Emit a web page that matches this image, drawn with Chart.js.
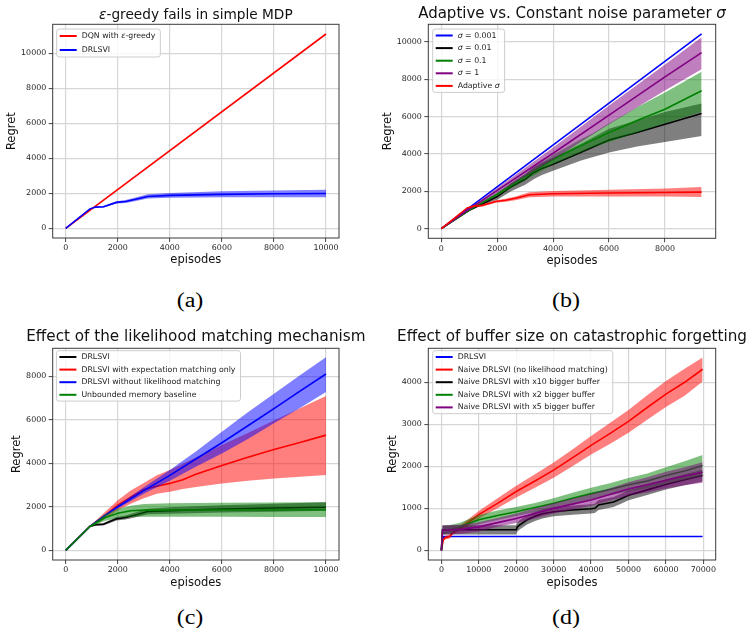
<!DOCTYPE html>
<html>
<head>
<meta charset="utf-8">
<script src="https://cdn.jsdelivr.net/npm/chart.js@4.4.1/dist/chart.umd.min.js"></script>
<style>
body { margin: 0; background: #fff; width: 748px; height: 628px; position: relative; overflow: hidden; }
.panel { position: absolute; }
.cap { position: absolute; font-family: "Liberation Serif"; font-size: 20px; color: #000;
       transform: translate(-50%, -50%) scaleX(1.2); white-space: nowrap; }
</style>
</head>
<body>
<div class="panel" style="left:0;top:0"><canvas id="chartA" width="374" height="280"></canvas></div>
<div class="panel" style="left:374px;top:0"><canvas id="chartB" width="374" height="280"></canvas></div>
<div class="panel" style="left:0;top:320px"><canvas id="chartC" width="374" height="270"></canvas></div>
<div class="panel" style="left:374px;top:320px"><canvas id="chartD" width="374" height="270"></canvas></div>
<div class="cap" style="left:190px;top:300px">(a)</div>
<div class="cap" style="left:566px;top:300px">(b)</div>
<div class="cap" style="left:190px;top:617px">(c)</div>
<div class="cap" style="left:566px;top:617px">(d)</div>
<script>
// ---- (a) epsilon-greedy fails in simple MDP
const aXTicks = [0, 2000, 4000, 6000, 8000, 10000];
const aYTicks = [0, 2000, 4000, 6000, 8000, 10000];
const aDqnX = [0, 10000];
const aDqnY = [0, 11100];
const aDrlX = [0, 930, 1150, 1450, 1950, 2300, 2650, 3150, 4000, 6000, 8000, 10000];
const aDrlMean = [0, 1110, 1210, 1230, 1480, 1530, 1640, 1820, 1880, 1940, 1970, 1990];
const aDrlLo = [0, 1090, 1170, 1180, 1410, 1450, 1540, 1700, 1740, 1770, 1780, 1780];
const aDrlHi = [0, 1130, 1250, 1280, 1550, 1610, 1740, 1940, 2020, 2110, 2160, 2200];

// ---- (b) adaptive vs constant sigma
const bXTicks = [0, 2000, 4000, 6000, 8000];
const bYTicks = [0, 2000, 4000, 6000, 8000, 10000];
const bS001X = [0, 9310];
const bS001Y = [0, 10430];
const bS01X = [0, 1000, 1500, 2000, 2500, 3000, 3300, 3600, 4000, 5000, 6000, 7000, 8000, 9310];
const bS01Mean = [0, 980, 1350, 1720, 2250, 2650, 3000, 3230, 3450, 4100, 4750, 5150, 5600, 6170];
const bS01Lo = [0, 960, 1280, 1550, 2000, 2350, 2650, 2880, 3100, 3650, 4080, 4400, 4650, 4960];
const bS01Hi = [0, 1000, 1420, 1850, 2450, 2900, 3300, 3550, 3800, 4550, 5350, 5800, 6250, 6700];
const bS1X = [0, 1000, 2000, 3000, 4000, 5000, 5400, 6000, 7000, 8000, 9310];
const bS1Mean = [0, 1000, 1850, 2800, 3720, 4450, 4730, 5150, 5800, 6400, 7390];
const bS1Lo = [0, 980, 1750, 2600, 3450, 4100, 4350, 4650, 5150, 5650, 6250];
const bS1Hi = [0, 1020, 1950, 2950, 3950, 4800, 5100, 5650, 6500, 7300, 8410];
const bS10X = [0, 1000, 2000, 4000, 6000, 8000, 9310];
const bS10Mean = [0, 1050, 2050, 4040, 6080, 8130, 9430];
const bS10Lo = [0, 1020, 1900, 3700, 5600, 7400, 8540];
const bS10Hi = [0, 1080, 2180, 4350, 6600, 8800, 10250];
const bAdaX = [0, 930, 1150, 1450, 1950, 2300, 2650, 3150, 4000, 6000, 8000, 9310];
const bAdaMean = [0, 1110, 1210, 1240, 1460, 1520, 1630, 1820, 1870, 1910, 1940, 1960];
const bAdaLo = [0, 1090, 1170, 1180, 1390, 1440, 1530, 1690, 1720, 1730, 1720, 1700];
const bAdaHi = [0, 1130, 1250, 1290, 1530, 1600, 1730, 1950, 2020, 2090, 2160, 2230];

// ---- (c) likelihood matching mechanism
const cXTicks = [0, 2000, 4000, 6000, 8000, 10000];
const cYTicks = [0, 2000, 4000, 6000, 8000];
const cDrlX = [0, 930, 1150, 1450, 1950, 2300, 2650, 3150, 4000, 6000, 8000, 10000];
const cDrlMean = [0, 1100, 1180, 1200, 1450, 1510, 1620, 1790, 1830, 1900, 1950, 1985];
const cDrlLo = [0, 1080, 1130, 1140, 1370, 1420, 1510, 1660, 1690, 1740, 1780, 1820];
const cDrlHi = [0, 1120, 1230, 1260, 1530, 1600, 1730, 1920, 1980, 2080, 2150, 2210];
const cExpX = [0, 930, 1500, 2000, 2500, 3000, 3500, 4000, 4500, 5000, 6000, 7000, 8000, 9000, 10000];
const cExpMean = [0, 1100, 1600, 2080, 2450, 2800, 2950, 3080, 3250, 3500, 3900, 4280, 4640, 4960, 5300];
const cExpLo = [0, 1080, 1450, 1850, 2150, 2400, 2600, 2700, 2820, 2920, 3080, 3200, 3300, 3390, 3470];
const cExpHi = [0, 1120, 1750, 2300, 2750, 3100, 3450, 3700, 3980, 4270, 4850, 5400, 5970, 6530, 7100];
const cNoLmX = [0, 930, 1500, 2000, 3000, 4000, 5000, 6000, 7000, 8000, 9000, 10000];
const cNoLmMean = [0, 1100, 1600, 2000, 2750, 3450, 4200, 4950, 5730, 6520, 7320, 8110];
const cNoLmLo = [0, 1090, 1560, 1930, 2600, 3200, 3850, 4450, 5120, 5850, 6550, 7280];
const cNoLmHi = [0, 1110, 1640, 2070, 2900, 3700, 4550, 5450, 6350, 7200, 8050, 8880];
const cUnbX = [0, 930, 1500, 2000, 2500, 3000, 4000, 6000, 8000, 10000];
const cUnbMean = [0, 1100, 1500, 1710, 1820, 1850, 1860, 1860, 1860, 1870];
const cUnbLo = [0, 1080, 1350, 1500, 1530, 1550, 1550, 1550, 1540, 1530];
const cUnbHi = [0, 1120, 1650, 1920, 2050, 2130, 2170, 2190, 2200, 2210];

// ---- (d) buffer size and catastrophic forgetting
const dXTicks = [0, 10000, 20000, 30000, 40000, 50000, 60000, 70000];
const dYTicks = [0, 1000, 2000, 3000, 4000];
const dDrlX = [0, 300, 600, 69800];
const dDrlY = [0, 250, 330, 330];
const dNaiveX = [0, 500, 1000, 2200, 3100, 5400, 10000, 15000, 20000, 25000, 30000, 35000, 40000, 45000, 50000, 55000, 60000, 65000, 69800];
const dNaiveMean = [0, 250, 300, 330, 430, 550, 850, 1120, 1400, 1650, 1910, 2200, 2500, 2780, 3070, 3400, 3720, 4000, 4310];
const dNaiveLo = [0, 220, 260, 280, 380, 480, 760, 1000, 1260, 1490, 1730, 2000, 2280, 2530, 2800, 3110, 3410, 3680, 4020];
const dNaiveHi = [0, 280, 340, 380, 480, 620, 940, 1240, 1540, 1810, 2090, 2400, 2720, 3030, 3340, 3690, 4030, 4320, 4590];
const dX10X = [0, 300, 1000, 20000, 20300, 21000, 23000, 25000, 27000, 30000, 35000, 40000, 41000, 42000, 46000, 48000, 50000, 55000, 60000, 65000, 69800];
const dX10Mean = [0, 490, 490, 490, 560, 610, 730, 810, 870, 920, 960, 990, 1000, 1080, 1150, 1230, 1310, 1440, 1570, 1680, 1780];
const dX10Lo = [0, 380, 380, 380, 450, 500, 620, 700, 760, 810, 850, 880, 890, 960, 1030, 1110, 1190, 1320, 1450, 1550, 1640];
const dX10Hi = [0, 600, 600, 600, 670, 720, 840, 920, 980, 1030, 1070, 1100, 1110, 1200, 1270, 1350, 1430, 1560, 1690, 1810, 1920];
const dX2X = [0, 300, 2000, 5000, 10000, 15000, 20000, 25000, 30000, 35000, 40000, 45000, 50000, 55000, 60000, 65000, 69800];
const dX2Mean = [0, 480, 490, 560, 730, 830, 920, 1020, 1120, 1240, 1350, 1450, 1560, 1650, 1780, 1890, 2020];
const dX2Lo = [0, 380, 400, 460, 620, 720, 820, 910, 1010, 1110, 1210, 1310, 1400, 1480, 1590, 1680, 1780];
const dX2Hi = [0, 580, 600, 660, 840, 950, 1030, 1130, 1240, 1370, 1490, 1600, 1720, 1830, 1980, 2120, 2270];
const dX5X = [0, 300, 5000, 10000, 15000, 20000, 25000, 30000, 35000, 40000, 45000, 50000, 55000, 60000, 65000, 69800];
const dX5Mean = [0, 480, 500, 560, 660, 760, 880, 1000, 1100, 1200, 1330, 1460, 1560, 1670, 1770, 1860];
const dX5Lo = [0, 380, 390, 450, 560, 650, 760, 880, 970, 1060, 1180, 1300, 1380, 1470, 1550, 1610];
const dX5Hi = [0, 590, 610, 670, 770, 880, 1000, 1120, 1230, 1340, 1480, 1620, 1740, 1870, 1980, 2100];

const FONT = '"DejaVu Sans"';
Chart.defaults.font.family = FONT;
Chart.defaults.animation = false;

const colors = {
    blue: [0, 0, 255], red: [255, 0, 0], black: [0, 0, 0],
    green: [0, 128, 0], purple: [128, 0, 128]
};
function rgba(name, a) {
    const c = colors[name];
    return 'rgba(' + c[0] + ',' + c[1] + ',' + c[2] + ',' + a + ')';
}

function pts(xs, ys) {
    return xs.map((x, i) => ({ x: x, y: ys[i] }));
}

// greek letters are drawn in italic, like mathtext
function richParts(text) {
    return text.split(/([εσ])/).filter(p => p.length > 0);
}
function richFont(part, size) {
    return (/[εσ]/.test(part) ? 'italic ' : '') + size + 'px ' + FONT;
}
function measureRich(ctx, text, size) {
    let w = 0;
    richParts(text).forEach(p => { ctx.font = richFont(p, size); w += ctx.measureText(p).width; });
    return w;
}
function drawRich(ctx, text, x, y, size, align, color) {
    let cx = align === 'center' ? x - measureRich(ctx, text, size) / 2 : x;
    ctx.fillStyle = color;
    ctx.textBaseline = 'middle';
    ctx.textAlign = 'left';
    richParts(text).forEach(p => {
        ctx.font = richFont(p, size);
        ctx.fillText(p, cx, y);
        cx += ctx.measureText(p).width;
    });
}

function buildDatasets(series) {
    const ds = [];
    series.forEach((s, k) => {
        if (s.lo) {
            ds.push({ data: pts(s.x, s.hi), borderWidth: 0, borderColor: 'transparent', pointRadius: 0,
                      backgroundColor: rgba(s.color, 0.5), fill: '+1', order: 100 - k });
            ds.push({ data: pts(s.x, s.lo), borderWidth: 0, borderColor: 'transparent', pointRadius: 0,
                      fill: false, order: 100 - k });
        }
        ds.push({ label: s.label, data: pts(s.x, s.mean), borderColor: rgba(s.color, 1), borderWidth: 1.6,
                  pointRadius: 0, fill: false, tension: 0, order: 99.5 - k });
    });
    return ds;
}

// frame, title and in-plot legend (matplotlib look)
const panelPlugin = {
    id: 'panel',
    afterDatasetsDraw(chart) {
        const a = chart.chartArea, ctx = chart.ctx;
        ctx.save();
        ctx.strokeStyle = '#3a3a3a';
        ctx.lineWidth = 1;
        ctx.strokeRect(a.left, a.top, a.right - a.left, a.bottom - a.top);
        ctx.restore();
    },
    afterDraw(chart, args, opts) {
        const a = chart.chartArea, ctx = chart.ctx;
        ctx.save();
        drawRich(ctx, opts.title, (a.left + a.right) / 2, opts.titleY, opts.titleSize, 'center', '#111');

        const items = chart.data.datasets.filter(d => d.label);
        const lg = opts.legend;
        const size = 7.8;
        let tw = 0;
        items.forEach(d => { tw = Math.max(tw, measureRich(ctx, d.label, size)); });
        const bx = a.left + lg.dx, by = a.top + lg.dy;
        const bw = 25 + tw + 5;
        const bh = lg.first * 2 + (items.length - 1) * lg.row;
        ctx.beginPath();
        ctx.roundRect(bx, by, bw, bh, 2.5);
        ctx.fillStyle = 'rgba(255,255,255,0.8)';
        ctx.fill();
        ctx.strokeStyle = '#cccccc';
        ctx.lineWidth = 1;
        ctx.stroke();
        items.forEach((d, i) => {
            const y = by + lg.first + i * lg.row;
            ctx.beginPath();
            ctx.moveTo(bx + 3, y);
            ctx.lineTo(bx + 20, y);
            ctx.strokeStyle = d.borderColor;
            ctx.lineWidth = 2;
            ctx.stroke();
            drawRich(ctx, d.label, bx + 25, y, size, 'left', '#222');
        });
        ctx.restore();
    }
};

function makePanel(id, g, series) {
    const tickFont = { size: 7.9 };
    return new Chart(document.getElementById(id), {
        type: 'line',
        data: { datasets: buildDatasets(series) },
        plugins: [panelPlugin],
        options: {
            responsive: false,
            devicePixelRatio: 1,
            layout: { padding: { left: 0, top: g.top, right: g.padRight, bottom: 0 } },
            plugins: {
                legend: { display: false },
                tooltip: { enabled: false },
                filler: { propagate: false },
                panel: { title: g.title, titleY: g.titleY, titleSize: g.titleSize, legend: g.legend }
            },
            scales: {
                x: {
                    type: 'linear', min: g.xMin, max: g.xMax,
                    afterBuildTicks: s => { s.ticks = g.xTicks.map(v => ({ value: v })); },
                    ticks: { autoSkip: false, maxRotation: 0, minRotation: 0,
                             padding: 1.5, color: '#222', font: tickFont, callback: v => String(v) },
                    grid: { color: '#d6d6d6', lineWidth: 1.2, tickLength: 4, tickColor: '#444', tickWidth: 1 },
                    border: { display: false },
                    title: { display: true, text: 'episodes', color: '#111', font: { size: 11.5 },
                             padding: { top: 0, bottom: g.xTitlePad } },
                    afterFit: s => { s.height = g.xAxisH; }
                },
                y: {
                    type: 'linear', min: g.yMin, max: g.yMax,
                    afterBuildTicks: s => { s.ticks = g.yTicks.map(v => ({ value: v })); },
                    ticks: { autoSkip: false,
                             padding: 2.5, color: '#222', font: tickFont, callback: v => String(v) },
                    grid: { color: '#d6d6d6', lineWidth: 1.2, tickLength: 4, tickColor: '#444', tickWidth: 1 },
                    border: { display: false },
                    title: { display: true, text: 'Regret', color: '#111', font: { size: 11.5 },
                             padding: { top: g.yTitlePad, bottom: 0 } },
                    afterFit: s => { s.width = g.yAxisW; }
                }
            }
        }
    });
}

makePanel('chartA', {
    title: 'ε-greedy fails in simple MDP', titleY: 15, titleSize: 13.7,
    top: 24.3, padRight: 35, yAxisW: 52.7, xAxisH: 42, xTitlePad: 13.1, yTitlePad: 5.4,
    xMin: -500, xMax: 10500, xTicks: aXTicks, yMin: -555, yMax: 11655, yTicks: aYTicks,
    legend: { dx: 4, dy: 4.7, first: 7, row: 14 }
}, [
    { label: 'DQN with ε-greedy', color: 'red', x: aDqnX, mean: aDqnY },
    { label: 'DRLSVI', color: 'blue', x: aDrlX, mean: aDrlMean, lo: aDrlLo, hi: aDrlHi }
]);

makePanel('chartB', {
    title: 'Adaptive vs. Constant noise parameter σ', titleY: 14, titleSize: 15,
    top: 24.3, padRight: 32.3, yAxisW: 54.3, xAxisH: 41.7, xTitlePad: 12.1, yTitlePad: 7.1,
    xMin: -465, xMax: 9814, xTicks: bXTicks, yMin: -514, yMax: 10948, yTicks: bYTicks,
    legend: { dx: 4.4, dy: 4.7, first: 6.5, row: 12.6 }
}, [
    { label: 'σ = 0.001', color: 'blue', x: bS001X, mean: bS001Y },
    { label: 'σ = 0.01', color: 'black', x: bS01X, mean: bS01Mean, lo: bS01Lo, hi: bS01Hi },
    { label: 'σ = 0.1', color: 'green', x: bS1X, mean: bS1Mean, lo: bS1Lo, hi: bS1Hi },
    { label: 'σ = 1', color: 'purple', x: bS10X, mean: bS10Mean, lo: bS10Lo, hi: bS10Hi },
    { label: 'Adaptive σ', color: 'red', x: bAdaX, mean: bAdaMean, lo: bAdaLo, hi: bAdaHi }
]);

makePanel('chartC', {
    title: 'Effect of the likelihood matching mechanism', titleY: 16.7, titleSize: 15.2,
    top: 28.3, padRight: 35, yAxisW: 52.7, xAxisH: 30, xTitlePad: 0.4, yTitlePad: 10.4,
    xMin: -500, xMax: 10500, xTicks: cXTicks, yMin: -442, yMax: 9292, yTicks: cYTicks,
    legend: { dx: 3.7, dy: 2.4, first: 6.3, row: 12.6 }
}, [
    { label: 'DRLSVI', color: 'black', x: cDrlX, mean: cDrlMean, lo: cDrlLo, hi: cDrlHi },
    { label: 'DRLSVI with expectation matching only', color: 'red', x: cExpX, mean: cExpMean, lo: cExpLo, hi: cExpHi },
    { label: 'DRLSVI without likelihood matching', color: 'blue', x: cNoLmX, mean: cNoLmMean, lo: cNoLmLo, hi: cNoLmHi },
    { label: 'Unbounded memory baseline', color: 'green', x: cUnbX, mean: cUnbMean, lo: cUnbLo, hi: cUnbHi }
]);

makePanel('chartD', {
    title: 'Effect of buffer size on catastrophic forgetting', titleY: 16.7, titleSize: 15.2,
    top: 28.3, padRight: 32.3, yAxisW: 54.3, xAxisH: 30, xTitlePad: 0.4, yTitlePad: 12.3,
    xMin: -3500, xMax: 73300, xTicks: dXTicks, yMin: -229, yMax: 4809, yTicks: dYTicks,
    legend: { dx: 4.4, dy: 2.4, first: 6.3, row: 12.6 }
}, [
    { label: 'DRLSVI', color: 'blue', x: dDrlX, mean: dDrlY },
    { label: 'Naive DRLSVI (no likelihood matching)', color: 'red', x: dNaiveX, mean: dNaiveMean, lo: dNaiveLo, hi: dNaiveHi },
    { label: 'Naive DRLSVI with x10 bigger buffer', color: 'black', x: dX10X, mean: dX10Mean, lo: dX10Lo, hi: dX10Hi },
    { label: 'Naive DRLSVI with x2 bigger buffer', color: 'green', x: dX2X, mean: dX2Mean, lo: dX2Lo, hi: dX2Hi },
    { label: 'Naive DRLSVI with x5 bigger buffer', color: 'purple', x: dX5X, mean: dX5Mean, lo: dX5Lo, hi: dX5Hi }
]);
</script>
</body>
</html>
